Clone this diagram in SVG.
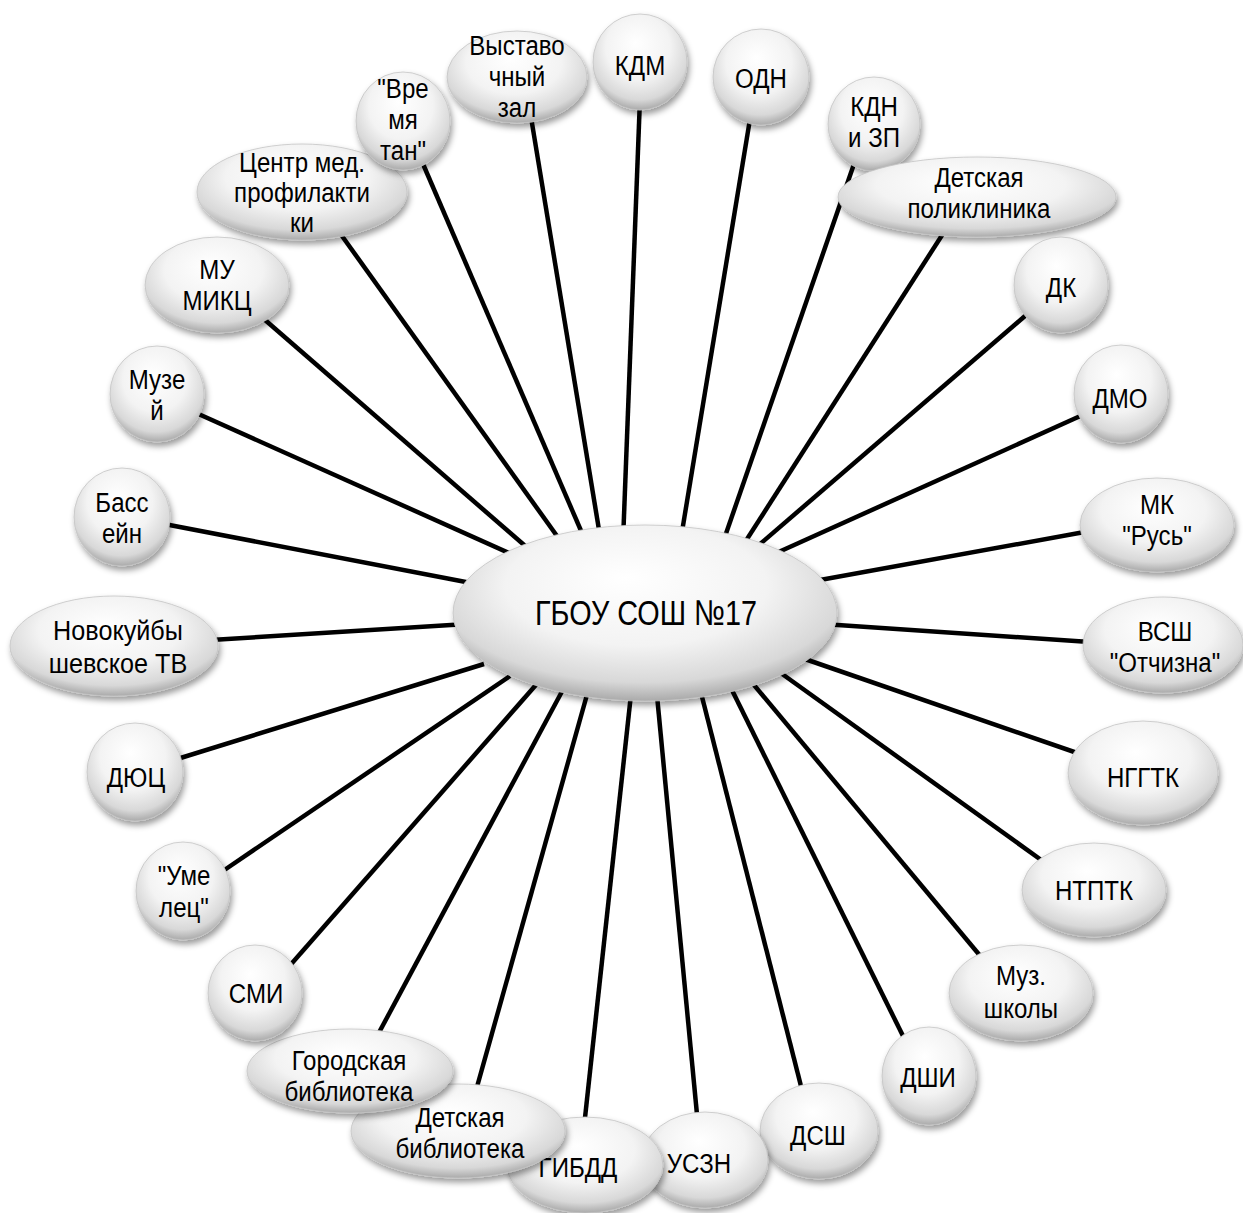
<svg xmlns="http://www.w3.org/2000/svg" width="1243" height="1213" viewBox="0 0 1243 1213">
<defs>
<radialGradient id="g" cx="50%" cy="38%" r="62%" fx="45%" fy="30%">
<stop offset="0" stop-color="#ffffff"/>
<stop offset="0.55" stop-color="#f3f3f3"/>
<stop offset="0.85" stop-color="#d8d8d8"/>
<stop offset="1" stop-color="#aaaaaa"/>
</radialGradient>
<filter id="sh" x="-20%" y="-20%" width="140%" height="150%">
<feDropShadow dx="2" dy="4" stdDeviation="3" flood-color="#000" flood-opacity="0.4"/>
</filter>
</defs>
<style>
.n{fill:url(#g);stroke:#c4c4c4;stroke-width:0.8;filter:url(#sh)}
.t{font-family:"Liberation Sans Narrow","Arial Narrow","Liberation Sans",sans-serif;font-size:28px;fill:#000;text-anchor:middle}
.c line{stroke:#000;stroke-width:4.5}
</style>
<rect width="1243" height="1213" fill="#fff"/>
<g id="connectors" class="c">
<line x1="420" y1="157" x2="585" y2="540"/>
<line x1="337" y1="229" x2="562" y2="543"/>
<line x1="257" y1="313" x2="531" y2="551"/>
<line x1="194" y1="412" x2="518" y2="557"/>
<line x1="159" y1="523" x2="471" y2="583"/>
<line x1="211" y1="640" x2="467" y2="624"/>
<line x1="174" y1="760" x2="484" y2="664"/>
<line x1="220" y1="873" x2="510" y2="676"/>
<line x1="286" y1="970" x2="542" y2="678"/>
<line x1="375" y1="1040" x2="566" y2="684"/>
<line x1="475" y1="1094" x2="590" y2="684"/>
<line x1="584" y1="1127" x2="632" y2="685"/>
<line x1="698" y1="1125" x2="656" y2="685"/>
<line x1="803" y1="1094" x2="698" y2="681"/>
<line x1="905" y1="1040" x2="727" y2="680"/>
<line x1="982" y1="958" x2="749" y2="679"/>
<line x1="1044" y1="862" x2="778" y2="671"/>
<line x1="1083" y1="755" x2="802" y2="658"/>
<line x1="1090" y1="642" x2="823" y2="624"/>
<line x1="1090" y1="531" x2="809" y2="582"/>
<line x1="1087" y1="413" x2="772" y2="555"/>
<line x1="1032" y1="310" x2="752" y2="551"/>
<line x1="946" y1="229" x2="740" y2="550"/>
<line x1="854" y1="164" x2="721" y2="548"/>
<line x1="751" y1="113" x2="680" y2="544"/>
<line x1="640" y1="98" x2="623" y2="542"/>
<line x1="530" y1="111" x2="601" y2="542"/>
</g>
<g id="center"><ellipse class="n" cx="645" cy="613" rx="192" ry="88"/><g transform="matrix(.8 0 0 1 646 0)"><text class="t" y="625" style="font-size:36px">ГБОУ СОШ №17</text></g></g>
<g id="kdm"><ellipse class="n" cx="640" cy="62" rx="47" ry="48"/><g transform="matrix(.86 0 0 1 640 0)"><text class="t" y="75">КДМ</text></g></g>
<g id="odn"><ellipse class="n" cx="761" cy="77" rx="48" ry="48"/><g transform="matrix(.86 0 0 1 761 0)"><text class="t" y="88">ОДН</text></g></g>
<g id="kdn"><ellipse class="n" cx="874" cy="124" rx="46" ry="47"/><g transform="matrix(.86 0 0 1 874 0)"><text class="t" y="116">КДН</text><text class="t" y="147">и ЗП</text></g></g>
<g id="dpol"><ellipse class="n" cx="977" cy="197" rx="139" ry="40"/><g transform="matrix(.86 0 0 1 979 0)"><text class="t" y="187">Детская</text><text class="t" y="218">поликлиника</text></g></g>
<g id="dk"><ellipse class="n" cx="1061" cy="285" rx="47" ry="48"/><g transform="matrix(.86 0 0 1 1061 0)"><text class="t" y="297">ДК</text></g></g>
<g id="dmo"><ellipse class="n" cx="1121" cy="394" rx="47" ry="49"/><g transform="matrix(.86 0 0 1 1120 0)"><text class="t" y="408">ДМО</text></g></g>
<g id="mk"><ellipse class="n" cx="1157" cy="525" rx="77" ry="47"/><g transform="matrix(.86 0 0 1 1157 0)"><text class="t" y="514">МК</text><text class="t" y="545">"Русь"</text></g></g>
<g id="vsh"><ellipse class="n" cx="1163" cy="645" rx="80" ry="48"/><g transform="matrix(.86 0 0 1 1165 0)"><text class="t" y="641">ВСШ</text><text class="t" y="672">"Отчизна"</text></g></g>
<g id="nggtk"><ellipse class="n" cx="1143" cy="773" rx="75" ry="52"/><g transform="matrix(.86 0 0 1 1143 0)"><text class="t" y="787">НГГТК</text></g></g>
<g id="ntptk"><ellipse class="n" cx="1094" cy="890" rx="72" ry="47"/><g transform="matrix(.86 0 0 1 1094 0)"><text class="t" y="900">НТПТК</text></g></g>
<g id="muz"><ellipse class="n" cx="1021" cy="993" rx="72" ry="48"/><g transform="matrix(.86 0 0 1 1021 0)"><text class="t" y="985">Муз.</text><text class="t" y="1018">школы</text></g></g>
<g id="dshi"><ellipse class="n" cx="929" cy="1076" rx="47" ry="49"/><g transform="matrix(.86 0 0 1 928 0)"><text class="t" y="1087">ДШИ</text></g></g>
<g id="dssh"><ellipse class="n" cx="819" cy="1131" rx="59" ry="48"/><g transform="matrix(.86 0 0 1 818 0)"><text class="t" y="1145">ДСШ</text></g></g>
<g id="uszn"><ellipse class="n" cx="705" cy="1160" rx="63" ry="48"/><g transform="matrix(.86 0 0 1 699 0)"><text class="t" y="1173">УСЗН</text></g></g>
<g id="gibdd"><ellipse class="n" cx="585" cy="1165" rx="78" ry="48"/><g transform="matrix(.86 0 0 1 578 0)"><text class="t" y="1177">ГИБДД</text></g></g>
<g id="dbib"><ellipse class="n" cx="458" cy="1131" rx="107" ry="47"/><g transform="matrix(.86 0 0 1 460 0)"><text class="t" y="1127">Детская</text><text class="t" y="1158">библиотека</text></g></g>
<g id="gbib"><ellipse class="n" cx="350" cy="1071" rx="103" ry="42"/><g transform="matrix(.86 0 0 1 349 0)"><text class="t" y="1070">Городская</text><text class="t" y="1101">библиотека</text></g></g>
<g id="smi"><ellipse class="n" cx="255" cy="993" rx="47" ry="48"/><g transform="matrix(.86 0 0 1 256 0)"><text class="t" y="1003">СМИ</text></g></g>
<g id="umel"><ellipse class="n" cx="183" cy="891" rx="47" ry="49"/><g transform="matrix(.86 0 0 1 184 0)"><text class="t" y="885">"Уме</text><text class="t" y="917">лец"</text></g></g>
<g id="dyuc"><ellipse class="n" cx="135" cy="772" rx="48" ry="49"/><g transform="matrix(.86 0 0 1 136 0)"><text class="t" y="787">ДЮЦ</text></g></g>
<g id="ntv"><ellipse class="n" cx="114" cy="646" rx="104" ry="50"/><g transform="matrix(.9 0 0 1 118 0)"><text class="t" y="640">Новокуйбы</text><text class="t" y="673">шевское ТВ</text></g></g>
<g id="bass"><ellipse class="n" cx="122" cy="517" rx="48" ry="49"/><g transform="matrix(.86 0 0 1 122 0)"><text class="t" y="512">Басс</text><text class="t" y="543">ейн</text></g></g>
<g id="muzey"><ellipse class="n" cx="157" cy="394" rx="47" ry="48"/><g transform="matrix(.86 0 0 1 157 0)"><text class="t" y="389">Музе</text><text class="t" y="420">й</text></g></g>
<g id="mu"><ellipse class="n" cx="217" cy="285" rx="72" ry="48"/><g transform="matrix(.86 0 0 1 217 0)"><text class="t" y="279">МУ</text><text class="t" y="310">МИКЦ</text></g></g>
<g id="cmp"><ellipse class="n" cx="302" cy="192" rx="105" ry="48"/><g transform="matrix(.86 0 0 1 302 0)"><text class="t" y="172">Центр мед.</text><text class="t" y="202">профилакти</text><text class="t" y="232">ки</text></g></g>
<g id="vremya"><ellipse class="n" cx="403" cy="121" rx="47" ry="49"/><g transform="matrix(.86 0 0 1 403 0)"><text class="t" y="98">"Вре</text><text class="t" y="129">мя</text><text class="t" y="160">тан"</text></g></g>
<g id="vz"><ellipse class="n" cx="517" cy="77" rx="70" ry="46"/><g transform="matrix(.86 0 0 1 517 0)"><text class="t" y="55">Выставо</text><text class="t" y="86">чный</text><text class="t" y="117">зал</text></g></g>
</svg>
